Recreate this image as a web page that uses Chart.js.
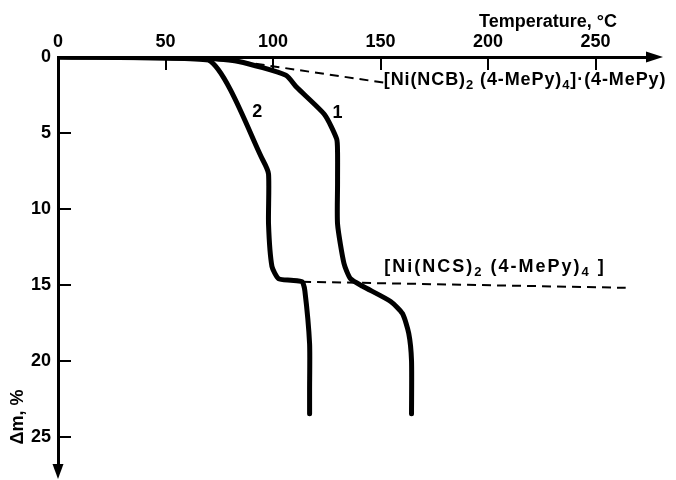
<!DOCTYPE html>
<html><head><meta charset="utf-8">
<script src="https://cdn.jsdelivr.net/npm/chart.js@4.4.0/dist/chart.umd.min.js"></script>
<style>html,body{margin:0;padding:0;background:#fff;}</style>
</head><body>
<canvas id="c" width="676" height="480" style="width:676px;height:480px;display:block"></canvas>
<script>
// ---- data ----
const xTickValues = [0, 50, 100, 150, 200, 250];
const yTickValues = [0, 5, 10, 15, 20, 25];

// curve 1 : temperature (°C) and mass loss (%)
const curve1T  = [0, 70, 84, 106, 111, 124, 129.6, 130, 130, 130, 133, 136, 141.7, 154.7, 160.2, 163.1, 164.4, 164.4];
const curve1Dm = [0, 0.1, 0.3, 1.2, 2.0, 3.8, 5.4, 6.3, 8.4, 11.0, 13.6, 14.6, 15.1, 16.1, 16.9, 18.2, 20.0, 23.5];

// curve 2
const curve2T  = [0, 70, 95.3, 97.9, 97.9, 99.5, 102.6, 108.3, 113.5, 114.8, 117, 117, 117];
const curve2Dm = [0, 0.2, 6.8, 7.7, 11.0, 13.8, 14.6, 14.7, 14.8, 15.4, 18.9, 21.9, 23.5];

// dashed guide lines
const dashNCBT  = [85, 152];
const dashNCBDm = [0.3, 1.7];
const dashNCST  = [113.5, 264];
const dashNCSDm = [14.8, 15.2];

// annotations (anchored in data units)
const curveNames = ['1', '2'];
const curveNameT = [130, 92.7];
const curveNameDm = [3.7, 3.6];
const compoundNames = ['[Ni(NCB)₂ (4-MePy)₄]·(4-MePy)', '[Ni(NCS)₂ (4-MePy)₄ ]'];
const compoundT = [151.5, 151.7];
const compoundDm = [1.5, 13.8];

const xTitle = 'Temperature, °C';
const yTitle = 'Δm, %';

// ---- helpers ----
const pts = (xs, ys) => xs.map((x, i) => ({x: x, y: ys[i]}));
const FONT = '"Liberation Sans", Arial, sans-serif';
const labelSpacing = ['0.9px', '2px'];

function drawRich(ctx, str, x, y, size) {
  const subMap = {'₀':'0','₁':'1','₂':'2','₃':'3','₄':'4','₅':'5','₆':'6','₇':'7','₈':'8','₉':'9'};
  const runs = [];
  for (const ch of str) {
    const sub = ch in subMap;
    const c = sub ? subMap[ch] : ch;
    if (runs.length && runs[runs.length-1].sub === sub) runs[runs.length-1].t += c;
    else runs.push({t: c, sub: sub});
  }
  let cx = x;
  ctx.textAlign = 'left';
  ctx.textBaseline = 'middle';
  for (const r of runs) {
    const s = r.sub ? Math.round(size * 0.72) : size;
    ctx.font = 'bold ' + s + 'px ' + FONT;
    ctx.fillText(r.t, cx, r.sub ? y + size * 0.32 : y);
    cx += ctx.measureText(r.t).width;
  }
}

const decor = {
  id: 'decor',
  afterDraw(chart) {
    const ctx = chart.ctx;
    const xs = chart.scales.x, ys = chart.scales.y;
    const a = chart.chartArea;
    ctx.save();
    ctx.fillStyle = '#000';
    // arrow heads
    ctx.beginPath();
    ctx.moveTo(a.right + 13, a.top);
    ctx.lineTo(a.right - 4, a.top - 5.5);
    ctx.lineTo(a.right - 4, a.top + 5.5);
    ctx.closePath(); ctx.fill();
    ctx.beginPath();
    ctx.moveTo(a.left, a.bottom + 9);
    ctx.lineTo(a.left - 5.5, a.bottom - 6);
    ctx.lineTo(a.left + 5.5, a.bottom - 6);
    ctx.closePath(); ctx.fill();
    // curve numbers
    ctx.font = 'bold 18px ' + FONT;
    ctx.textAlign = 'center'; ctx.textBaseline = 'middle';
    curveNames.forEach((n, i) => {
      ctx.fillText(n, xs.getPixelForValue(curveNameT[i]), ys.getPixelForValue(curveNameDm[i]));
    });
    // compound labels
    compoundNames.forEach((n, i) => {
      ctx.letterSpacing = labelSpacing[i];
      drawRich(ctx, n, xs.getPixelForValue(compoundT[i]), ys.getPixelForValue(compoundDm[i]), 18);
    });
    ctx.letterSpacing = '0px';
    // axis titles
    ctx.font = 'bold 18px ' + FONT;
    ctx.textAlign = 'right'; ctx.textBaseline = 'middle';
    ctx.fillText(xTitle, a.right - 33, 22);
    ctx.translate(18, 417);
    ctx.rotate(-Math.PI / 2);
    ctx.textAlign = 'center';
    ctx.fillText(yTitle, 0, 0);
    ctx.restore();
  }
};

const tickFont = {family: FONT, size: 18, weight: 'bold'};
const curveStyle = {showLine: true, borderColor: '#000', borderWidth: 5, pointRadius: 0, tension: 0.2, borderCapStyle: 'round', borderJoinStyle: 'round'};
const dashStyle = {showLine: true, borderColor: '#000', borderWidth: 2, borderDash: [9, 6], pointRadius: 0, tension: 0};

new Chart(document.getElementById('c'), {
  type: 'scatter',
  data: {
    datasets: [
      Object.assign({label: '1', data: pts(curve1T, curve1Dm)}, curveStyle),
      Object.assign({label: '2', data: pts(curve2T, curve2Dm)}, curveStyle),
      Object.assign({label: 'NCB', data: pts(dashNCBT, dashNCBDm)}, dashStyle),
      Object.assign({label: 'NCS', data: pts(dashNCST, dashNCSDm)}, dashStyle)
    ]
  },
  options: {
    responsive: false,
    animation: false,
    devicePixelRatio: 1,
    layout: {padding: {left: 0, top: 0, right: 26, bottom: 10}},
    plugins: {legend: {display: false}, tooltip: {enabled: false}},
    scales: {
      x: {
        type: 'linear', position: 'top', min: 0, max: 275.3,
        afterBuildTicks: s => { s.ticks = xTickValues.map(v => ({value: v})); },
        afterFit: s => { s.height = 57; s.paddingLeft = 0; s.paddingRight = 0; },
        ticks: {font: tickFont, color: '#000', padding: 17, autoSkip: false, maxRotation: 0},
        grid: {drawOnChartArea: false, drawTicks: true, tickLength: -13, color: '#000', lineWidth: 2},
        border: {display: true, color: '#000', width: 3}
      },
      y: {
        type: 'linear', position: 'left', reverse: true, min: 0, max: 27.2,
        afterBuildTicks: s => { s.ticks = yTickValues.map(v => ({value: v})); },
        afterFit: s => { s.width = 58; s.paddingTop = 0; s.paddingBottom = 0; },
        ticks: {font: tickFont, color: '#000', padding: 20, autoSkip: false},
        grid: {drawOnChartArea: false, drawTicks: true, tickLength: -13, color: '#000', lineWidth: 2},
        border: {display: true, color: '#000', width: 3}
      }
    }
  },
  plugins: [decor]
});
</script>
</body></html>
